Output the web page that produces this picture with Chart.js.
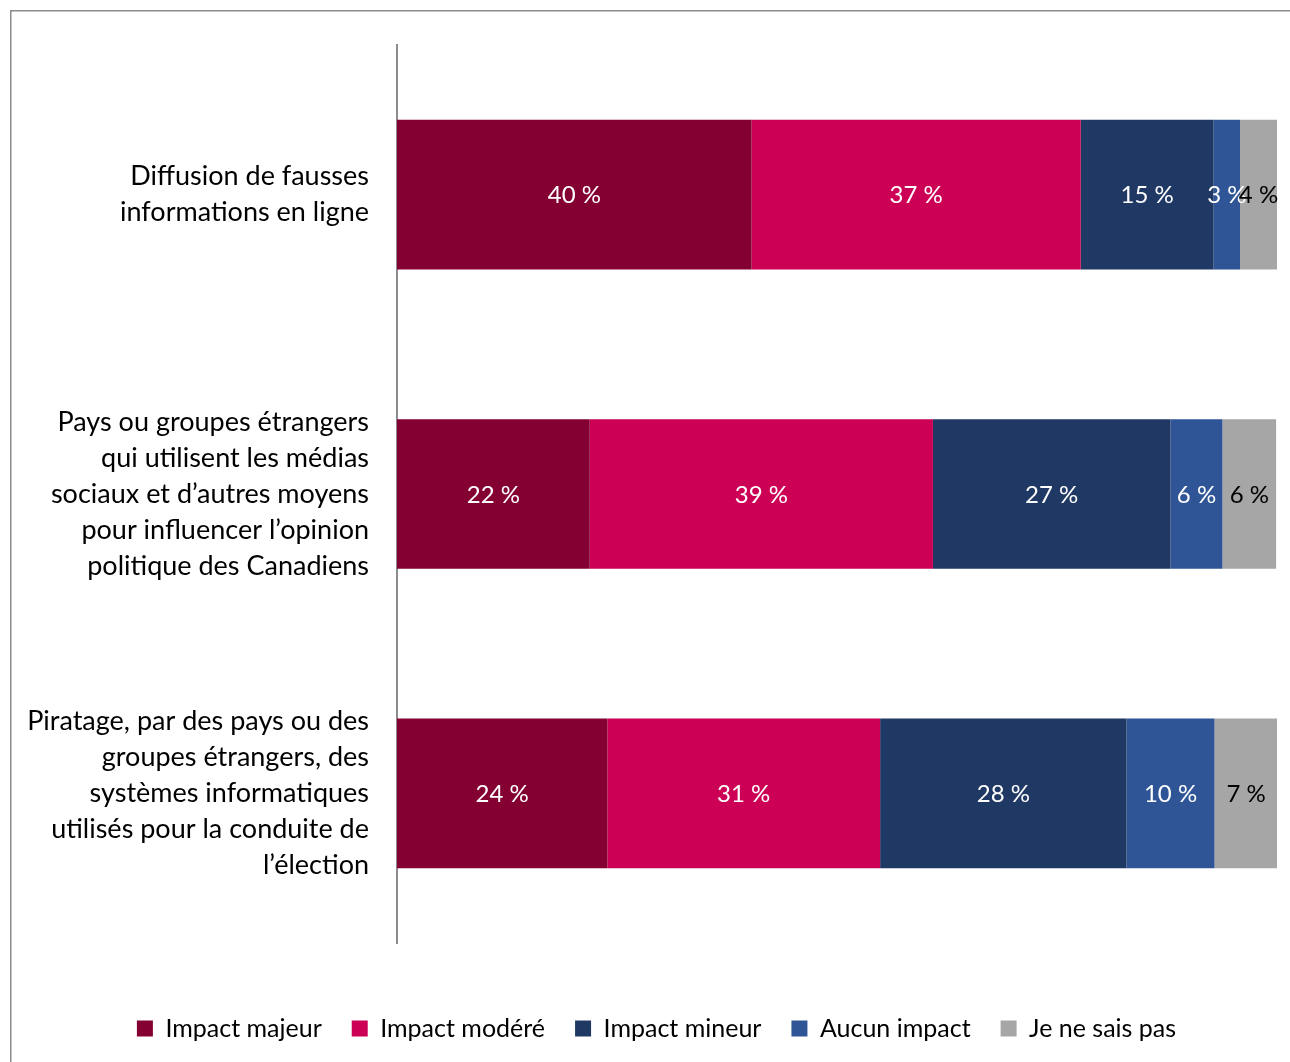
<!DOCTYPE html>
<html>
<head>
<meta charset="utf-8">
<script src="https://cdn.jsdelivr.net/npm/chart.js@4/dist/chart.umd.js"></script>
<style>
  html, body { margin: 0; padding: 0; background: #fff; }
  #wrap { width: 1290px; height: 1062px; }
</style>
</head>
<body>
<div id="wrap"><canvas id="graphique"></canvas></div>
<script>
// Catégories (étiquettes de l'axe vertical)
const categories = [
  ['Diffusion de fausses', 'informations en ligne'],
  ['Pays ou groupes étrangers', 'qui utilisent les médias', 'sociaux et d’autres moyens', 'pour influencer l’opinion', 'politique des Canadiens'],
  ['Piratage, par des pays ou des', 'groupes étrangers, des', 'systèmes informatiques', 'utilisés pour la conduite de', 'l’élection']
];

// Valeurs (en %)
const impactMajeur = [40.3, 21.9, 23.9];
const impactModere = [37.4, 39.0, 31.0];
const impactMineur = [15.1, 27.0, 28.0];
const aucunImpact = [3.0, 5.9, 10.0];
const jeNeSaisPas = [4.2, 6.1, 7.2];

const series = ['Impact majeur', 'Impact modéré', 'Impact mineur', 'Aucun impact', 'Je ne sais pas'];
const couleurs = ['#840032', '#CC0055', '#203864', '#2F5597', '#A6A6A6'];
const couleursTexte = ['#fff', '#fff', '#fff', '#fff', '#000'];

const POLICE = 'Lato, "Open Sans", sans-serif';

// étiquettes de valeurs au centre de chaque segment
const etiquettes = {
  id: 'etiquettes',
  afterDatasetsDraw(chart) {
    const ctx = chart.ctx;
    ctx.save();
    ctx.font = '24px ' + POLICE;
    ctx.textAlign = 'center';
    ctx.textBaseline = 'middle';
    chart.data.datasets.forEach((ds, i) => {
      chart.getDatasetMeta(i).data.forEach((bar, j) => {
        const p = bar.getProps(['x', 'y', 'base'], true);
        ctx.fillStyle = couleursTexte[i];
        ctx.fillText(Math.round(ds.data[j]) + ' %', (p.x + p.base) / 2, p.y + 1);
      });
    });
    ctx.restore();
  }
};

// cadre gris autour du graphique + légende décalée vers la droite
const cadre = {
  id: 'cadre',
  afterLayout(chart) {
    if (chart.legend) {
      chart.legend.left += 36;
    }
  },
  beforeDraw(chart) {
    const ctx = chart.ctx;
    ctx.save();
    ctx.strokeStyle = '#8c8c8c';
    ctx.lineWidth = 1.5;
    ctx.beginPath();
    ctx.moveTo(10.75, 1062);
    ctx.lineTo(10.75, 10.75);
    ctx.lineTo(1290, 10.75);
    ctx.stroke();
    ctx.restore();
  }
};

new Chart(document.getElementById('graphique'), {
  type: 'bar',
  data: {
    labels: categories,
    datasets: [impactMajeur, impactModere, impactMineur, aucunImpact, jeNeSaisPas].map((d, i) => ({
      label: series[i],
      data: d,
      backgroundColor: couleurs[i],
      borderWidth: 0,
      barPercentage: 0.5,
      categoryPercentage: 1
    }))
  },
  options: {
    indexAxis: 'y',
    responsive: true,
    maintainAspectRatio: false,
    animation: false,
    layout: { padding: { top: 45, right: 13, left: 0, bottom: 11 } },
    plugins: {
      legend: {
        position: 'bottom',
        labels: {
          font: { family: POLICE, size: 25 },
          color: '#000',
          boxWidth: 16,
          boxHeight: 16,
          padding: 30
        }
      },
      tooltip: { enabled: false }
    },
    scales: {
      x: {
        stacked: true,
        min: 0,
        max: 100,
        display: true,
        grid: { display: false },
        border: { display: false },
        ticks: { display: false },
        afterFit(s) { s.height = 43; }
      },
      y: {
        stacked: true,
        grid: { display: false, drawTicks: false },
        border: { display: true, color: '#8c8c8c', width: 2 },
        ticks: {
          color: '#000',
          padding: 28,
          font: { family: POLICE, size: 27, lineHeight: 1.333 }
        },
        afterFit(s) {
          s.width = 397;
          s.paddingTop = 0;
          s.paddingBottom = 0;
        }
      }
    }
  },
  plugins: [etiquettes, cadre]
});
</script>
</body>
</html>
